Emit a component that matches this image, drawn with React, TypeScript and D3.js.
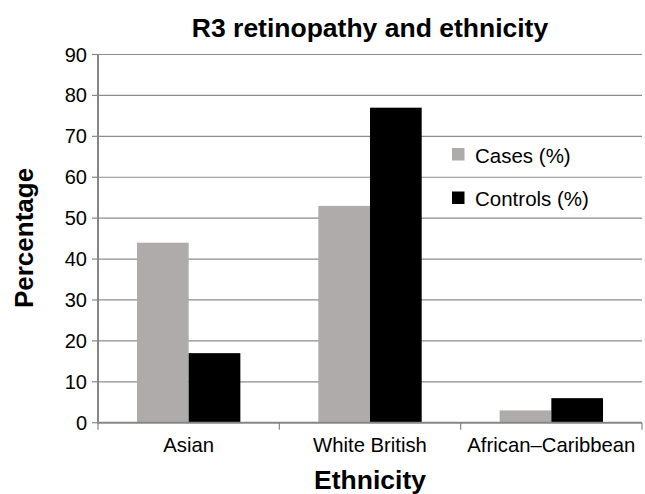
import { scaleBand, scaleLinear, range } from 'd3';

const categories = ['Asian', 'White British', 'African\u2013Caribbean'];
const seriesNames = ['Cases (%)', 'Controls (%)'];
const casesValues = [44, 53, 3];
const controlsValues = [17, 77, 6];
const yTicks = range(0, 91, 10);

const seriesColors = ['#afabab', '#000000'];
const font = '"Liberation Sans", Arial, sans-serif';

export default function App() {
  const width = 645;
  const height = 494;
  const x = scaleBand<string>().domain(categories).range([98, 642]).padding(0);
  const inner = scaleBand<string>()
    .domain(seriesNames)
    .range([0, x.bandwidth()])
    .paddingInner(0)
    .paddingOuter(0.754);
  const y = scaleLinear().domain([0, 90]).range([422.7, 54.5]);
  const values = [casesValues, controlsValues];

  return (
    <svg width={width} height={height} style={{ position: 'absolute', left: 0, top: 0 }} fontFamily={font}>
      <rect width={width} height={height} fill="#fff" />
      <text x={370} y={37.3} textAnchor="middle" fontSize={26.5} fontWeight="bold">
        R3 retinopathy and ethnicity
      </text>

      {/* gridlines */}
      {yTicks.filter((t) => t > 0).map((t) => (
        <line key={t} x1={98} x2={642} y1={y(t)} y2={y(t)} stroke="#8c8c8c" strokeWidth={1.2} />
      ))}

      {/* bars */}
      {categories.map((c, i) => (
        <g key={c} transform={`translate(${x(c)},0)`}>
          {seriesNames.map((s, j) => (
            <rect
              key={s}
              x={inner(s)}
              y={y(values[j][i])}
              width={inner.bandwidth()}
              height={y(0) - y(values[j][i])}
              fill={seriesColors[j]}
            />
          ))}
        </g>
      ))}

      {/* y axis */}
      <line x1={98} x2={98} y1={y(90)} y2={y(0)} stroke="#868686" strokeWidth={2} />
      {yTicks.map((t) => (
        <g key={t}>
          <line x1={92} x2={98} y1={y(t)} y2={y(t)} stroke="#868686" strokeWidth={1.2} />
          <text x={87} y={y(t) + 7} textAnchor="end" fontSize={20}>
            {t}
          </text>
        </g>
      ))}

      {/* x axis */}
      <line x1={97} x2={642} y1={y(0)} y2={y(0)} stroke="#868686" strokeWidth={2} />
      {[...categories.map((c) => x(c) as number), 642].map((px, i) => (
        <line key={i} x1={px} x2={px} y1={y(0)} y2={y(0) + 7} stroke="#868686" strokeWidth={1.2} />
      ))}
      {categories.map((c) => (
        <text key={c} x={(x(c) as number) + x.bandwidth() / 2} y={451.7} textAnchor="middle" fontSize={20.3}>
          {c}
        </text>
      ))}

      <text x={370} y={489.3} textAnchor="middle" fontSize={26.5} fontWeight="bold">
        Ethnicity
      </text>
      <text transform="translate(33,238) rotate(-90)" textAnchor="middle" fontSize={26} fontWeight="bold">
        Percentage
      </text>

      {/* legend */}
      {seriesNames.map((s, j) => (
        <g key={s} transform={`translate(452,${148 + j * 43.5})`}>
          <rect width={12.5} height={12.5} fill={seriesColors[j]} />
          <text x={23} y={14.5} fontSize={20.5}>
            {s}
          </text>
        </g>
      ))}
    </svg>
  );
}
